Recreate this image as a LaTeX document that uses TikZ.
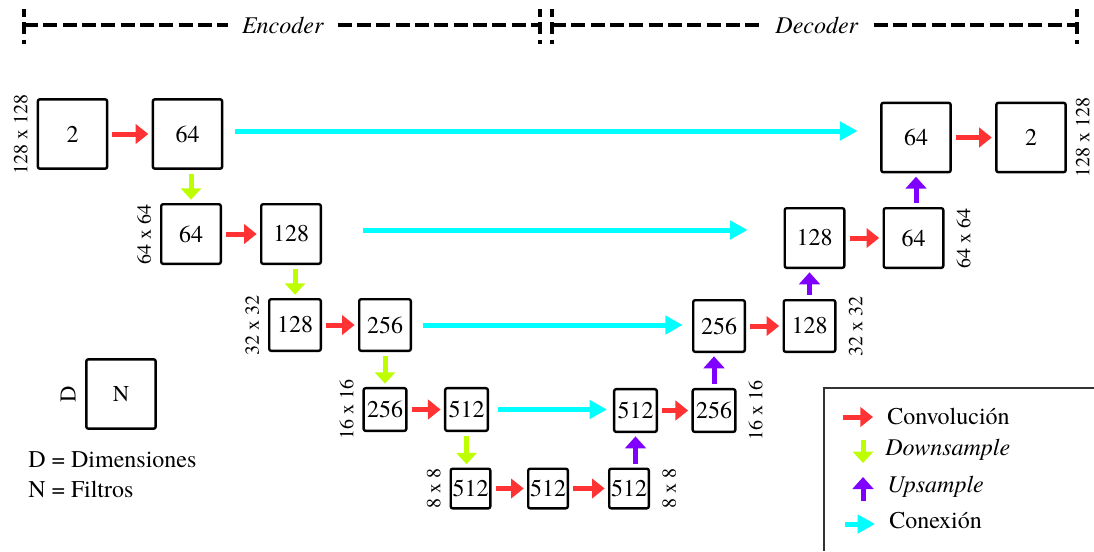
\documentclass[tikz,border=0pt]{standalone}
\usepackage{amsmath}
\usepackage{amssymb}
\usepackage{fontspec}
\setmainfont{TeX Gyre Termes}
\usepackage{tikz}
\usetikzlibrary{arrows.meta}

\definecolor{convred}{RGB}{255,51,51}
\definecolor{downlime}{RGB}{190,255,0}
\definecolor{uppurple}{RGB}{127,0,255}
\definecolor{linkcyan}{RGB}{0,255,255}
\definecolor{legframe}{RGB}{51,51,51}

\tikzset{
  blk/.style={draw, line width=1.8pt, rounded corners=1.5pt, inner sep=0pt,
    minimum size=#1, font=\fontsize{18}{20}\selectfont},
  dimL/.style={rotate=90, anchor=south, inner sep=0pt, font=\fontsize{15}{17}\selectfont},
  dimR/.style={rotate=90, anchor=north, inner sep=0pt, font=\fontsize{15}{17}\selectfont},
  convArr/.style={draw=convred, line width=3.75pt, -{Triangle[length=9.5pt,width=14.5pt]}},
  downArr/.style={draw=downlime, line width=3.75pt, -{Triangle[length=8.5pt,width=15pt]}},
  upArr/.style={draw=uppurple, line width=3.75pt, -{Triangle[length=9pt,width=15.5pt]}},
  linkArr/.style={draw=linkcyan, line width=3.75pt, -{Triangle[length=13pt,width=13.5pt]}},
  gap/.style={shorten <=3pt, shorten >=2.5pt},
  bar/.style={line width=2.3pt, dash pattern=on 10.5pt off 4pt},
  tickline/.style={line width=2.3pt, dash pattern=on 9pt off 4pt, dash phase=3pt},
  legtxt/.style={anchor=west, inner sep=0pt, font=\fontsize{18}{20}\selectfont},
}

\begin{document}
\begin{tikzpicture}[x=0.75pt,y=0.75pt,yscale=-1,xscale=1]
\useasboundingbox (0,0) rectangle (1094,551);

%Encoder / Decoder bar
\coordinate (encL) at (24,25);
\coordinate (encR) at (540,25);
\coordinate (decL) at (552,25);
\coordinate (decR) at (1077,25);
\node[inner sep=10pt, font=\fontsize{18}{20}\selectfont] (enc) at (283,25) {\textit{Encoder}};
\node[inner sep=11pt, font=\fontsize{18}{20}\selectfont] (dec) at (817,25) {\textit{Decoder}};
\draw[bar] (encL) -- (enc.west);
\draw[bar] (enc.east) -- (encR);
\draw[bar] (decL) -- (dec.west);
\draw[bar] (dec.east) -- (decR);
\foreach \c in {encL,encR,decL,decR}
  \draw[tickline] ([yshift=-12pt]\c) -- ([yshift=14pt]\c);

%Shape: Rectangle (128 x 128)
\node[blk=52pt] (e1a) at (72.5,134) {2};
\node[blk=52pt] (e1b) at (187.5,134) {64};
\node[blk=52pt] (d1a) at (916,137.5) {64};
\node[blk=52pt] (d1b) at (1031,137.5) {2};
%Shape: Rectangle (64 x 64)
\node[blk=44.7pt] (e2a) at (191,234) {64};
\node[blk=44.7pt] (e2b) at (291,234) {128};
\node[blk=44.7pt] (d2a) at (814.5,238) {128};
\node[blk=44.7pt] (d2b) at (913.5,238) {64};
%Shape: Rectangle (32 x 32)
\node[blk=38.7pt] (e3a) at (295,325) {128};
\node[blk=38.7pt] (e3b) at (385,325) {256};
\node[blk=38.7pt] (d3a) at (719,326) {256};
\node[blk=38.7pt] (d3b) at (809.5,326) {128};
%Shape: Rectangle (16 x 16)
\node[blk=32pt] (e4a) at (385,409.5) {256};
\node[blk=32pt] (e4b) at (466.5,409.5) {512};
\node[blk=32pt] (d4a) at (635.5,410.5) {512};
\node[blk=32pt] (d4b) at (714,410.5) {256};
%Shape: Rectangle (8 x 8)
\node[blk=29.7pt] (b5a) at (470.5,488.5) {512};
\node[blk=29.7pt] (b5b) at (548,488.5) {512};
\node[blk=29.7pt] (b5c) at (629,488.5) {512};

% Text Node
\node[dimL] at ([xshift=-6.5pt]e1a.west) {128 x 128};
\node[dimR] at ([xshift=6.5pt]d1b.east) {128 x 128};
\node[dimL] at ([xshift=-6.5pt]e2a.west) {64 x 64};
\node[dimR] at ([xshift=9pt]d2b.east) {64 x 64};
\node[dimL] at ([xshift=-6.5pt]e3a.west) {32 x 32};
\node[dimR] at ([xshift=9pt]d3b.east) {32 x 32};
\node[dimL] at ([xshift=-6.5pt]e4a.west) {16 x 16};
\node[dimR] at ([xshift=9pt]d4b.east) {16 x 16};
\node[dimL] at ([xshift=-6.5pt]b5a.west) {8 x 8};
\node[dimR] at ([xshift=9pt]b5c.east) {8 x 8};

%Straight Lines: convolution
\draw[convArr, gap] (e1a) -- (e1b);
\draw[convArr, gap] (e2a) -- (e2b);
\draw[convArr, gap] (e3a) -- (e3b);
\draw[convArr, gap] (e4a) -- (e4b);
\draw[convArr, gap] (b5a) -- (b5b);
\draw[convArr, gap] (b5b) -- (b5c);
\draw[convArr, gap] (d4a) -- (d4b);
\draw[convArr, gap] (d3a) -- (d3b);
\draw[convArr, gap] (d2a) -- (d2b);
\draw[convArr, gap] (d1a) -- (d1b);

%Straight Lines: downsample
\draw[downArr, gap] (e2a.north |- e1b.south) -- (e2a.north);
\draw[downArr, gap] (e3a.north |- e2b.south) -- (e3a.north);
\draw[downArr, gap] (e3b.south) -- (e4a.north);
\draw[downArr, gap] (e4b.south) -- (e4b.south |- b5a.north);

%Straight Lines: upsample
\draw[upArr, gap] (d4a.south |- b5c.north) -- (d4a.south);
\draw[upArr, gap] (d4b.north) -- (d4b.north |- d3a.south);
\draw[upArr, gap] (d3b.north) -- (d3b.north |- d2a.south);
\draw[upArr, gap] (d1a.south |- d2b.north) -- (d1a.south);

%Straight Lines: connections
\draw[linkArr, shorten <=9pt, shorten >=17pt] ([yshift=-2.25pt]e1b.east) -- ([yshift=-2.25pt]e1b.east -| d1a.west);
\draw[linkArr, shorten <=31pt, shorten >=27pt] ([yshift=-3pt]e2b.east) -- ([yshift=-3pt]e2b.east -| d2a.west);
\draw[linkArr, shorten <=8pt, shorten >=7pt] (e3b.east) -- (e3b.east -| d3a.west);
\draw[linkArr, shorten <=7pt, shorten >=4.5pt] (e4b.east) -- (e4b.east -| d4a.west);

%Shape: Rectangle (key)
\node[blk=52pt, font=\fontsize{17}{19}\selectfont] (dn) at (121,394) {N};
\node[dimL, font=\fontsize{17}{19}\selectfont] at ([xshift=-7pt]dn.west) {D};
\node[legtxt] (ldim) at (28,460) {D = Dimensiones};
\node[legtxt] (lfil) at (28,489) {N = Filtros};

%Legend
\draw[line width=1.5pt, legframe] (1094,388) -- (824,388) -- (824,551);
\node[legtxt] (lconv) at (887,416) {Convolución};
\node[legtxt] (ldown) at (885,450) {\textit{Downsample}};
\node[legtxt] (lup) at (887,487) {\textit{Upsample}};
\node[legtxt] (llink) at (889,521) {Conexión};
\draw[convArr] ([xshift=-33pt,yshift=0.75pt]lconv.west) -- ([xshift=-10.5pt,yshift=0.75pt]lconv.west);
\draw[downArr] ([xshift=-16.5pt,yshift=-7.5pt]ldown.west) -- ([xshift=-16.5pt,yshift=9.75pt]ldown.west);
\draw[upArr] ([xshift=-18pt,yshift=10.5pt]lup.west) -- ([xshift=-18pt,yshift=-7.5pt]lup.west);
\draw[linkArr] ([xshift=-33pt,yshift=2.25pt]llink.west) -- ([xshift=-10.5pt,yshift=2.25pt]llink.west);

\end{tikzpicture}
\end{document}
